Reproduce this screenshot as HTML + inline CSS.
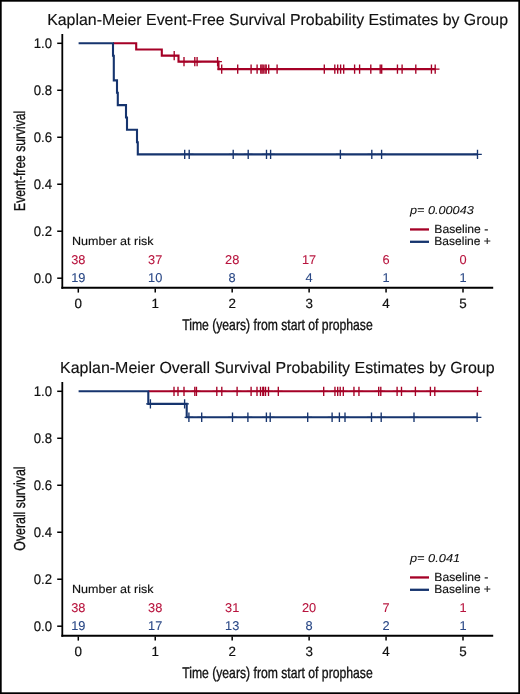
<!DOCTYPE html>
<html><head><meta charset="utf-8"><style>
html,body{margin:0;padding:0;background:#fff;}
body{width:520px;height:694px;overflow:hidden;position:relative;}
svg{position:absolute;left:0;top:0;font-family:'Liberation Sans', sans-serif;will-change:transform;-webkit-font-smoothing:antialiased;text-rendering:geometricPrecision;}
</style></head><body>
<svg width="520" height="694" viewBox="0 0 520 694">
<rect x="0" y="0" width="520" height="694" fill="#fff"/>
<g transform="translate(0 0)">
<text x="47.2" y="24.5" font-size="16"  textLength="460.8" lengthAdjust="spacingAndGlyphs" fill="#111" stroke="#111" stroke-width="0.15">Kaplan-Meier Event-Free Survival Probability Estimates by Group</text>
<path d="M62.3 34V288.8" stroke="#000" stroke-width="1.8" fill="none"/>
<path d="M61.4 287.8H493.2" stroke="#000" stroke-width="2" fill="none"/>
<path d="M57.2 278.20H62" stroke="#000" stroke-width="1.5"/>
<text x="52.1" y="282.80" font-size="14" text-anchor="end" textLength="18.3" lengthAdjust="spacingAndGlyphs" fill="#111" stroke="#111" stroke-width="0.2">0.0</text>
<path d="M57.2 231.22H62" stroke="#000" stroke-width="1.5"/>
<text x="52.1" y="235.82" font-size="14" text-anchor="end" textLength="18.3" lengthAdjust="spacingAndGlyphs" fill="#111" stroke="#111" stroke-width="0.2">0.2</text>
<path d="M57.2 184.24H62" stroke="#000" stroke-width="1.5"/>
<text x="52.1" y="188.84" font-size="14" text-anchor="end" textLength="18.3" lengthAdjust="spacingAndGlyphs" fill="#111" stroke="#111" stroke-width="0.2">0.4</text>
<path d="M57.2 137.26H62" stroke="#000" stroke-width="1.5"/>
<text x="52.1" y="141.86" font-size="14" text-anchor="end" textLength="18.3" lengthAdjust="spacingAndGlyphs" fill="#111" stroke="#111" stroke-width="0.2">0.6</text>
<path d="M57.2 90.28H62" stroke="#000" stroke-width="1.5"/>
<text x="52.1" y="94.88" font-size="14" text-anchor="end" textLength="18.3" lengthAdjust="spacingAndGlyphs" fill="#111" stroke="#111" stroke-width="0.2">0.8</text>
<path d="M57.2 43.30H62" stroke="#000" stroke-width="1.5"/>
<text x="52.1" y="47.90" font-size="14" text-anchor="end" textLength="18.3" lengthAdjust="spacingAndGlyphs" fill="#111" stroke="#111" stroke-width="0.2">1.0</text>
<path d="M78.30 288.5V292.6" stroke="#000" stroke-width="1.5"/>
<text x="78.30" y="307.8" font-size="13.4" text-anchor="middle" fill="#111" stroke="#111" stroke-width="0.2">0</text>
<path d="M155.24 288.5V292.6" stroke="#000" stroke-width="1.5"/>
<text x="155.24" y="307.8" font-size="13.4" text-anchor="middle" fill="#111" stroke="#111" stroke-width="0.2">1</text>
<path d="M232.18 288.5V292.6" stroke="#000" stroke-width="1.5"/>
<text x="232.18" y="307.8" font-size="13.4" text-anchor="middle" fill="#111" stroke="#111" stroke-width="0.2">2</text>
<path d="M309.12 288.5V292.6" stroke="#000" stroke-width="1.5"/>
<text x="309.12" y="307.8" font-size="13.4" text-anchor="middle" fill="#111" stroke="#111" stroke-width="0.2">3</text>
<path d="M386.06 288.5V292.6" stroke="#000" stroke-width="1.5"/>
<text x="386.06" y="307.8" font-size="13.4" text-anchor="middle" fill="#111" stroke="#111" stroke-width="0.2">4</text>
<path d="M463.00 288.5V292.6" stroke="#000" stroke-width="1.5"/>
<text x="463.00" y="307.8" font-size="13.4" text-anchor="middle" fill="#111" stroke="#111" stroke-width="0.2">5</text>
<text x="182.2" y="330.3" font-size="15.5" textLength="190.5" lengthAdjust="spacingAndGlyphs" fill="#111" stroke="#111" stroke-width="0.35">Time (years) from start of prophase</text>
<text transform="translate(25.4 210.9) rotate(-90)" x="0" y="0" font-size="15.8" textLength="100" lengthAdjust="spacingAndGlyphs" fill="#111" stroke="#111" stroke-width="0.35">Event-free survival</text>
<text x="72" y="245.3" font-size="11.8" textLength="81.5" lengthAdjust="spacingAndGlyphs" fill="#111" stroke="#111" stroke-width="0.15">Number at risk</text>
<text x="78.30" y="263.7" font-size="12.8" text-anchor="middle" fill="#b8143e" stroke="#b8143e" stroke-width="0.1">38</text>
<text x="155.24" y="263.7" font-size="12.8" text-anchor="middle" fill="#b8143e" stroke="#b8143e" stroke-width="0.1">37</text>
<text x="232.18" y="263.7" font-size="12.8" text-anchor="middle" fill="#b8143e" stroke="#b8143e" stroke-width="0.1">28</text>
<text x="309.12" y="263.7" font-size="12.8" text-anchor="middle" fill="#b8143e" stroke="#b8143e" stroke-width="0.1">17</text>
<text x="386.06" y="263.7" font-size="12.8" text-anchor="middle" fill="#b8143e" stroke="#b8143e" stroke-width="0.1">6</text>
<text x="463.00" y="263.7" font-size="12.8" text-anchor="middle" fill="#b8143e" stroke="#b8143e" stroke-width="0.1">0</text>
<text x="78.30" y="281.9" font-size="12.8" text-anchor="middle" fill="#2a4886" stroke="#2a4886" stroke-width="0.1">19</text>
<text x="155.24" y="281.9" font-size="12.8" text-anchor="middle" fill="#2a4886" stroke="#2a4886" stroke-width="0.1">10</text>
<text x="232.18" y="281.9" font-size="12.8" text-anchor="middle" fill="#2a4886" stroke="#2a4886" stroke-width="0.1">8</text>
<text x="309.12" y="281.9" font-size="12.8" text-anchor="middle" fill="#2a4886" stroke="#2a4886" stroke-width="0.1">4</text>
<text x="386.06" y="281.9" font-size="12.8" text-anchor="middle" fill="#2a4886" stroke="#2a4886" stroke-width="0.1">1</text>
<text x="463.00" y="281.9" font-size="12.8" text-anchor="middle" fill="#2a4886" stroke="#2a4886" stroke-width="0.1">1</text>
<text x="409.9" y="214.1" font-size="11.5" font-style="italic" textLength="63.9" lengthAdjust="spacingAndGlyphs" fill="#111" stroke="#111" stroke-width="0.05">p= 0.00043</text>
<path d="M410 229.45H429" stroke="#a50026" stroke-width="2.3"/>
<path d="M410 241.8H429" stroke="#16346e" stroke-width="2.3"/>
<text x="434.3" y="232.9" font-size="11.8" textLength="54" lengthAdjust="spacingAndGlyphs" fill="#111" stroke="#111" stroke-width="0.15">Baseline -</text>
<text x="434.3" y="245.0" font-size="11.8" textLength="56.5" lengthAdjust="spacingAndGlyphs" fill="#111" stroke="#111" stroke-width="0.15">Baseline +</text>
<path d="M113 43.3H136.2V49.5H161.8V55.6H178.5V61.6H218.5V69.1H435" stroke="#a50026" stroke-width="2.1" fill="none"/>
<path d="M174.20 50.90V60.30M169.90 55.60H178.50" stroke="#a50026" stroke-width="1.35" fill="none"/>
<path d="M184.00 56.90V66.30M179.70 61.60H188.30" stroke="#a50026" stroke-width="1.35" fill="none"/>
<path d="M194.80 56.90V66.30M190.50 61.60H199.10" stroke="#a50026" stroke-width="1.35" fill="none"/>
<path d="M197.10 56.90V66.30M192.80 61.60H201.40" stroke="#a50026" stroke-width="1.35" fill="none"/>
<path d="M217.60 56.90V66.30M213.30 61.60H221.90" stroke="#a50026" stroke-width="1.35" fill="none"/>
<path d="M221.70 64.40V73.80M217.40 69.10H226.00" stroke="#a50026" stroke-width="1.35" fill="none"/>
<path d="M237.70 64.40V73.80M233.40 69.10H242.00" stroke="#a50026" stroke-width="1.35" fill="none"/>
<path d="M251.10 64.40V73.80M246.80 69.10H255.40" stroke="#a50026" stroke-width="1.35" fill="none"/>
<path d="M257.10 64.40V73.80M252.80 69.10H261.40" stroke="#a50026" stroke-width="1.35" fill="none"/>
<path d="M260.80 64.40V73.80M256.50 69.10H265.10" stroke="#a50026" stroke-width="1.35" fill="none"/>
<path d="M262.00 64.40V73.80M257.70 69.10H266.30" stroke="#a50026" stroke-width="1.35" fill="none"/>
<path d="M263.20 64.40V73.80M258.90 69.10H267.50" stroke="#a50026" stroke-width="1.35" fill="none"/>
<path d="M265.00 64.40V73.80M260.70 69.10H269.30" stroke="#a50026" stroke-width="1.35" fill="none"/>
<path d="M266.20 64.40V73.80M261.90 69.10H270.50" stroke="#a50026" stroke-width="1.35" fill="none"/>
<path d="M268.70 64.40V73.80M264.40 69.10H273.00" stroke="#a50026" stroke-width="1.35" fill="none"/>
<path d="M277.10 64.40V73.80M272.80 69.10H281.40" stroke="#a50026" stroke-width="1.35" fill="none"/>
<path d="M324.30 64.40V73.80M320.00 69.10H328.60" stroke="#a50026" stroke-width="1.35" fill="none"/>
<path d="M334.80 64.40V73.80M330.50 69.10H339.10" stroke="#a50026" stroke-width="1.35" fill="none"/>
<path d="M337.70 64.40V73.80M333.40 69.10H342.00" stroke="#a50026" stroke-width="1.35" fill="none"/>
<path d="M340.60 64.40V73.80M336.30 69.10H344.90" stroke="#a50026" stroke-width="1.35" fill="none"/>
<path d="M343.70 64.40V73.80M339.40 69.10H348.00" stroke="#a50026" stroke-width="1.35" fill="none"/>
<path d="M354.60 64.40V73.80M350.30 69.10H358.90" stroke="#a50026" stroke-width="1.35" fill="none"/>
<path d="M359.60 64.40V73.80M355.30 69.10H363.90" stroke="#a50026" stroke-width="1.35" fill="none"/>
<path d="M370.80 64.40V73.80M366.50 69.10H375.10" stroke="#a50026" stroke-width="1.35" fill="none"/>
<path d="M380.20 64.40V73.80M375.90 69.10H384.50" stroke="#a50026" stroke-width="1.35" fill="none"/>
<path d="M381.70 64.40V73.80M377.40 69.10H386.00" stroke="#a50026" stroke-width="1.35" fill="none"/>
<path d="M397.45 64.40V73.80M393.15 69.10H401.75" stroke="#a50026" stroke-width="1.35" fill="none"/>
<path d="M402.10 64.40V73.80M397.80 69.10H406.40" stroke="#a50026" stroke-width="1.35" fill="none"/>
<path d="M415.80 64.40V73.80M411.50 69.10H420.10" stroke="#a50026" stroke-width="1.35" fill="none"/>
<path d="M431.45 64.40V73.80M427.15 69.10H435.75" stroke="#a50026" stroke-width="1.35" fill="none"/>
<path d="M435.20 64.40V73.80M430.90 69.10H439.50" stroke="#a50026" stroke-width="1.35" fill="none"/>
<path d="M78.6 43.3H113V55.7H113.8V80.4H117V92.8H117.8V105.1H126V117.5H127V129.8H137V142.2H137.8V154.4H477.3" stroke="#16346e" stroke-width="2.1" fill="none"/>
<path d="M184.70 149.70V159.10M180.40 154.40H189.00" stroke="#16346e" stroke-width="1.35" fill="none"/>
<path d="M189.20 149.70V159.10M184.90 154.40H193.50" stroke="#16346e" stroke-width="1.35" fill="none"/>
<path d="M233.20 149.70V159.10M228.90 154.40H237.50" stroke="#16346e" stroke-width="1.35" fill="none"/>
<path d="M248.20 149.70V159.10M243.90 154.40H252.50" stroke="#16346e" stroke-width="1.35" fill="none"/>
<path d="M266.50 149.70V159.10M262.20 154.40H270.80" stroke="#16346e" stroke-width="1.35" fill="none"/>
<path d="M270.60 149.70V159.10M266.30 154.40H274.90" stroke="#16346e" stroke-width="1.35" fill="none"/>
<path d="M340.40 149.70V159.10M336.10 154.40H344.70" stroke="#16346e" stroke-width="1.35" fill="none"/>
<path d="M371.80 149.70V159.10M367.50 154.40H376.10" stroke="#16346e" stroke-width="1.35" fill="none"/>
<path d="M381.60 149.70V159.10M377.30 154.40H385.90" stroke="#16346e" stroke-width="1.35" fill="none"/>
<path d="M477.50 149.70V159.10M473.20 154.40H481.80" stroke="#16346e" stroke-width="1.35" fill="none"/>
</g>
<g transform="translate(0 348)">
<text x="60.1" y="24.5" font-size="16"  textLength="434.5" lengthAdjust="spacingAndGlyphs" fill="#111" stroke="#111" stroke-width="0.15">Kaplan-Meier Overall Survival Probability Estimates by Group</text>
<path d="M62.3 34V288.8" stroke="#000" stroke-width="1.8" fill="none"/>
<path d="M61.4 287.8H493.2" stroke="#000" stroke-width="2" fill="none"/>
<path d="M57.2 278.20H62" stroke="#000" stroke-width="1.5"/>
<text x="52.1" y="282.80" font-size="14" text-anchor="end" textLength="18.3" lengthAdjust="spacingAndGlyphs" fill="#111" stroke="#111" stroke-width="0.2">0.0</text>
<path d="M57.2 231.22H62" stroke="#000" stroke-width="1.5"/>
<text x="52.1" y="235.82" font-size="14" text-anchor="end" textLength="18.3" lengthAdjust="spacingAndGlyphs" fill="#111" stroke="#111" stroke-width="0.2">0.2</text>
<path d="M57.2 184.24H62" stroke="#000" stroke-width="1.5"/>
<text x="52.1" y="188.84" font-size="14" text-anchor="end" textLength="18.3" lengthAdjust="spacingAndGlyphs" fill="#111" stroke="#111" stroke-width="0.2">0.4</text>
<path d="M57.2 137.26H62" stroke="#000" stroke-width="1.5"/>
<text x="52.1" y="141.86" font-size="14" text-anchor="end" textLength="18.3" lengthAdjust="spacingAndGlyphs" fill="#111" stroke="#111" stroke-width="0.2">0.6</text>
<path d="M57.2 90.28H62" stroke="#000" stroke-width="1.5"/>
<text x="52.1" y="94.88" font-size="14" text-anchor="end" textLength="18.3" lengthAdjust="spacingAndGlyphs" fill="#111" stroke="#111" stroke-width="0.2">0.8</text>
<path d="M57.2 43.30H62" stroke="#000" stroke-width="1.5"/>
<text x="52.1" y="47.90" font-size="14" text-anchor="end" textLength="18.3" lengthAdjust="spacingAndGlyphs" fill="#111" stroke="#111" stroke-width="0.2">1.0</text>
<path d="M78.30 288.5V292.6" stroke="#000" stroke-width="1.5"/>
<text x="78.30" y="307.8" font-size="13.4" text-anchor="middle" fill="#111" stroke="#111" stroke-width="0.2">0</text>
<path d="M155.24 288.5V292.6" stroke="#000" stroke-width="1.5"/>
<text x="155.24" y="307.8" font-size="13.4" text-anchor="middle" fill="#111" stroke="#111" stroke-width="0.2">1</text>
<path d="M232.18 288.5V292.6" stroke="#000" stroke-width="1.5"/>
<text x="232.18" y="307.8" font-size="13.4" text-anchor="middle" fill="#111" stroke="#111" stroke-width="0.2">2</text>
<path d="M309.12 288.5V292.6" stroke="#000" stroke-width="1.5"/>
<text x="309.12" y="307.8" font-size="13.4" text-anchor="middle" fill="#111" stroke="#111" stroke-width="0.2">3</text>
<path d="M386.06 288.5V292.6" stroke="#000" stroke-width="1.5"/>
<text x="386.06" y="307.8" font-size="13.4" text-anchor="middle" fill="#111" stroke="#111" stroke-width="0.2">4</text>
<path d="M463.00 288.5V292.6" stroke="#000" stroke-width="1.5"/>
<text x="463.00" y="307.8" font-size="13.4" text-anchor="middle" fill="#111" stroke="#111" stroke-width="0.2">5</text>
<text x="182.2" y="330.3" font-size="15.5" textLength="190.5" lengthAdjust="spacingAndGlyphs" fill="#111" stroke="#111" stroke-width="0.35">Time (years) from start of prophase</text>
<text transform="translate(25.4 202.7) rotate(-90)" x="0" y="0" font-size="15.8" textLength="84.3" lengthAdjust="spacingAndGlyphs" fill="#111" stroke="#111" stroke-width="0.35">Overall survival</text>
<text x="72" y="245.3" font-size="11.8" textLength="81.5" lengthAdjust="spacingAndGlyphs" fill="#111" stroke="#111" stroke-width="0.15">Number at risk</text>
<text x="78.30" y="263.7" font-size="12.8" text-anchor="middle" fill="#b8143e" stroke="#b8143e" stroke-width="0.1">38</text>
<text x="155.24" y="263.7" font-size="12.8" text-anchor="middle" fill="#b8143e" stroke="#b8143e" stroke-width="0.1">38</text>
<text x="232.18" y="263.7" font-size="12.8" text-anchor="middle" fill="#b8143e" stroke="#b8143e" stroke-width="0.1">31</text>
<text x="309.12" y="263.7" font-size="12.8" text-anchor="middle" fill="#b8143e" stroke="#b8143e" stroke-width="0.1">20</text>
<text x="386.06" y="263.7" font-size="12.8" text-anchor="middle" fill="#b8143e" stroke="#b8143e" stroke-width="0.1">7</text>
<text x="463.00" y="263.7" font-size="12.8" text-anchor="middle" fill="#b8143e" stroke="#b8143e" stroke-width="0.1">1</text>
<text x="78.30" y="281.9" font-size="12.8" text-anchor="middle" fill="#2a4886" stroke="#2a4886" stroke-width="0.1">19</text>
<text x="155.24" y="281.9" font-size="12.8" text-anchor="middle" fill="#2a4886" stroke="#2a4886" stroke-width="0.1">17</text>
<text x="232.18" y="281.9" font-size="12.8" text-anchor="middle" fill="#2a4886" stroke="#2a4886" stroke-width="0.1">13</text>
<text x="309.12" y="281.9" font-size="12.8" text-anchor="middle" fill="#2a4886" stroke="#2a4886" stroke-width="0.1">8</text>
<text x="386.06" y="281.9" font-size="12.8" text-anchor="middle" fill="#2a4886" stroke="#2a4886" stroke-width="0.1">2</text>
<text x="463.00" y="281.9" font-size="12.8" text-anchor="middle" fill="#2a4886" stroke="#2a4886" stroke-width="0.1">1</text>
<text x="409.9" y="214.1" font-size="11.5" font-style="italic" textLength="50.3" lengthAdjust="spacingAndGlyphs" fill="#111" stroke="#111" stroke-width="0.05">p= 0.041</text>
<path d="M410 229.45H429" stroke="#a50026" stroke-width="2.3"/>
<path d="M410 241.8H429" stroke="#16346e" stroke-width="2.3"/>
<text x="434.3" y="232.9" font-size="11.8" textLength="54" lengthAdjust="spacingAndGlyphs" fill="#111" stroke="#111" stroke-width="0.15">Baseline -</text>
<text x="434.3" y="245.0" font-size="11.8" textLength="56.5" lengthAdjust="spacingAndGlyphs" fill="#111" stroke="#111" stroke-width="0.15">Baseline +</text>
<path d="M148.3 43.3H477.3" stroke="#a50026" stroke-width="2.1" fill="none"/>
<path d="M174.00 38.70V48.10M169.70 43.40H178.30" stroke="#a50026" stroke-width="1.35" fill="none"/>
<path d="M178.00 38.70V48.10M173.70 43.40H182.30" stroke="#a50026" stroke-width="1.35" fill="none"/>
<path d="M184.00 38.70V48.10M179.70 43.40H188.30" stroke="#a50026" stroke-width="1.35" fill="none"/>
<path d="M194.80 38.70V48.10M190.50 43.40H199.10" stroke="#a50026" stroke-width="1.35" fill="none"/>
<path d="M196.45 38.70V48.10M192.15 43.40H200.75" stroke="#a50026" stroke-width="1.35" fill="none"/>
<path d="M216.80 38.70V48.10M212.50 43.40H221.10" stroke="#a50026" stroke-width="1.35" fill="none"/>
<path d="M221.80 38.70V48.10M217.50 43.40H226.10" stroke="#a50026" stroke-width="1.35" fill="none"/>
<path d="M237.10 38.70V48.10M232.80 43.40H241.40" stroke="#a50026" stroke-width="1.35" fill="none"/>
<path d="M251.10 38.70V48.10M246.80 43.40H255.40" stroke="#a50026" stroke-width="1.35" fill="none"/>
<path d="M257.00 38.70V48.10M252.70 43.40H261.30" stroke="#a50026" stroke-width="1.35" fill="none"/>
<path d="M260.50 38.70V48.10M256.20 43.40H264.80" stroke="#a50026" stroke-width="1.35" fill="none"/>
<path d="M262.80 38.70V48.10M258.50 43.40H267.10" stroke="#a50026" stroke-width="1.35" fill="none"/>
<path d="M263.60 38.70V48.10M259.30 43.40H267.90" stroke="#a50026" stroke-width="1.35" fill="none"/>
<path d="M265.50 38.70V48.10M261.20 43.40H269.80" stroke="#a50026" stroke-width="1.35" fill="none"/>
<path d="M268.50 38.70V48.10M264.20 43.40H272.80" stroke="#a50026" stroke-width="1.35" fill="none"/>
<path d="M278.30 38.70V48.10M274.00 43.40H282.60" stroke="#a50026" stroke-width="1.35" fill="none"/>
<path d="M323.70 38.70V48.10M319.40 43.40H328.00" stroke="#a50026" stroke-width="1.35" fill="none"/>
<path d="M334.95 38.70V48.10M330.65 43.40H339.25" stroke="#a50026" stroke-width="1.35" fill="none"/>
<path d="M337.70 38.70V48.10M333.40 43.40H342.00" stroke="#a50026" stroke-width="1.35" fill="none"/>
<path d="M340.20 38.70V48.10M335.90 43.40H344.50" stroke="#a50026" stroke-width="1.35" fill="none"/>
<path d="M343.30 38.70V48.10M339.00 43.40H347.60" stroke="#a50026" stroke-width="1.35" fill="none"/>
<path d="M353.95 38.70V48.10M349.65 43.40H358.25" stroke="#a50026" stroke-width="1.35" fill="none"/>
<path d="M358.95 38.70V48.10M354.65 43.40H363.25" stroke="#a50026" stroke-width="1.35" fill="none"/>
<path d="M378.70 38.70V48.10M374.40 43.40H383.00" stroke="#a50026" stroke-width="1.35" fill="none"/>
<path d="M380.80 38.70V48.10M376.50 43.40H385.10" stroke="#a50026" stroke-width="1.35" fill="none"/>
<path d="M397.10 38.70V48.10M392.80 43.40H401.40" stroke="#a50026" stroke-width="1.35" fill="none"/>
<path d="M401.50 38.70V48.10M397.20 43.40H405.80" stroke="#a50026" stroke-width="1.35" fill="none"/>
<path d="M415.40 38.70V48.10M411.10 43.40H419.70" stroke="#a50026" stroke-width="1.35" fill="none"/>
<path d="M430.40 38.70V48.10M426.10 43.40H434.70" stroke="#a50026" stroke-width="1.35" fill="none"/>
<path d="M434.80 38.70V48.10M430.50 43.40H439.10" stroke="#a50026" stroke-width="1.35" fill="none"/>
<path d="M477.50 38.70V48.10M473.20 43.40H481.80" stroke="#a50026" stroke-width="1.35" fill="none"/>
<path d="M78.6 43.3H148.3V55.9H186.7V69.3H477.3" stroke="#16346e" stroke-width="2.1" fill="none"/>
<path d="M150.40 51.20V60.60M146.10 55.90H154.70" stroke="#16346e" stroke-width="1.35" fill="none"/>
<path d="M184.60 51.20V60.60M180.30 55.90H188.90" stroke="#16346e" stroke-width="1.35" fill="none"/>
<path d="M188.90 64.60V74.00M184.60 69.30H193.20" stroke="#16346e" stroke-width="1.35" fill="none"/>
<path d="M201.70 64.60V74.00M197.40 69.30H206.00" stroke="#16346e" stroke-width="1.35" fill="none"/>
<path d="M232.50 64.60V74.00M228.20 69.30H236.80" stroke="#16346e" stroke-width="1.35" fill="none"/>
<path d="M247.90 64.60V74.00M243.60 69.30H252.20" stroke="#16346e" stroke-width="1.35" fill="none"/>
<path d="M266.40 64.60V74.00M262.10 69.30H270.70" stroke="#16346e" stroke-width="1.35" fill="none"/>
<path d="M270.20 64.60V74.00M265.90 69.30H274.50" stroke="#16346e" stroke-width="1.35" fill="none"/>
<path d="M307.70 64.60V74.00M303.40 69.30H312.00" stroke="#16346e" stroke-width="1.35" fill="none"/>
<path d="M332.10 64.60V74.00M327.80 69.30H336.40" stroke="#16346e" stroke-width="1.35" fill="none"/>
<path d="M339.40 64.60V74.00M335.10 69.30H343.70" stroke="#16346e" stroke-width="1.35" fill="none"/>
<path d="M345.00 64.60V74.00M340.70 69.30H349.30" stroke="#16346e" stroke-width="1.35" fill="none"/>
<path d="M371.50 64.60V74.00M367.20 69.30H375.80" stroke="#16346e" stroke-width="1.35" fill="none"/>
<path d="M381.20 64.60V74.00M376.90 69.30H385.50" stroke="#16346e" stroke-width="1.35" fill="none"/>
<path d="M414.00 64.60V74.00M409.70 69.30H418.30" stroke="#16346e" stroke-width="1.35" fill="none"/>
<path d="M477.10 64.60V74.00M472.80 69.30H481.40" stroke="#16346e" stroke-width="1.35" fill="none"/>
</g>
<rect x="0.85" y="0.85" width="518.3" height="692.3" fill="none" stroke="#000" stroke-width="1.7"/>
</svg>
</body></html>
